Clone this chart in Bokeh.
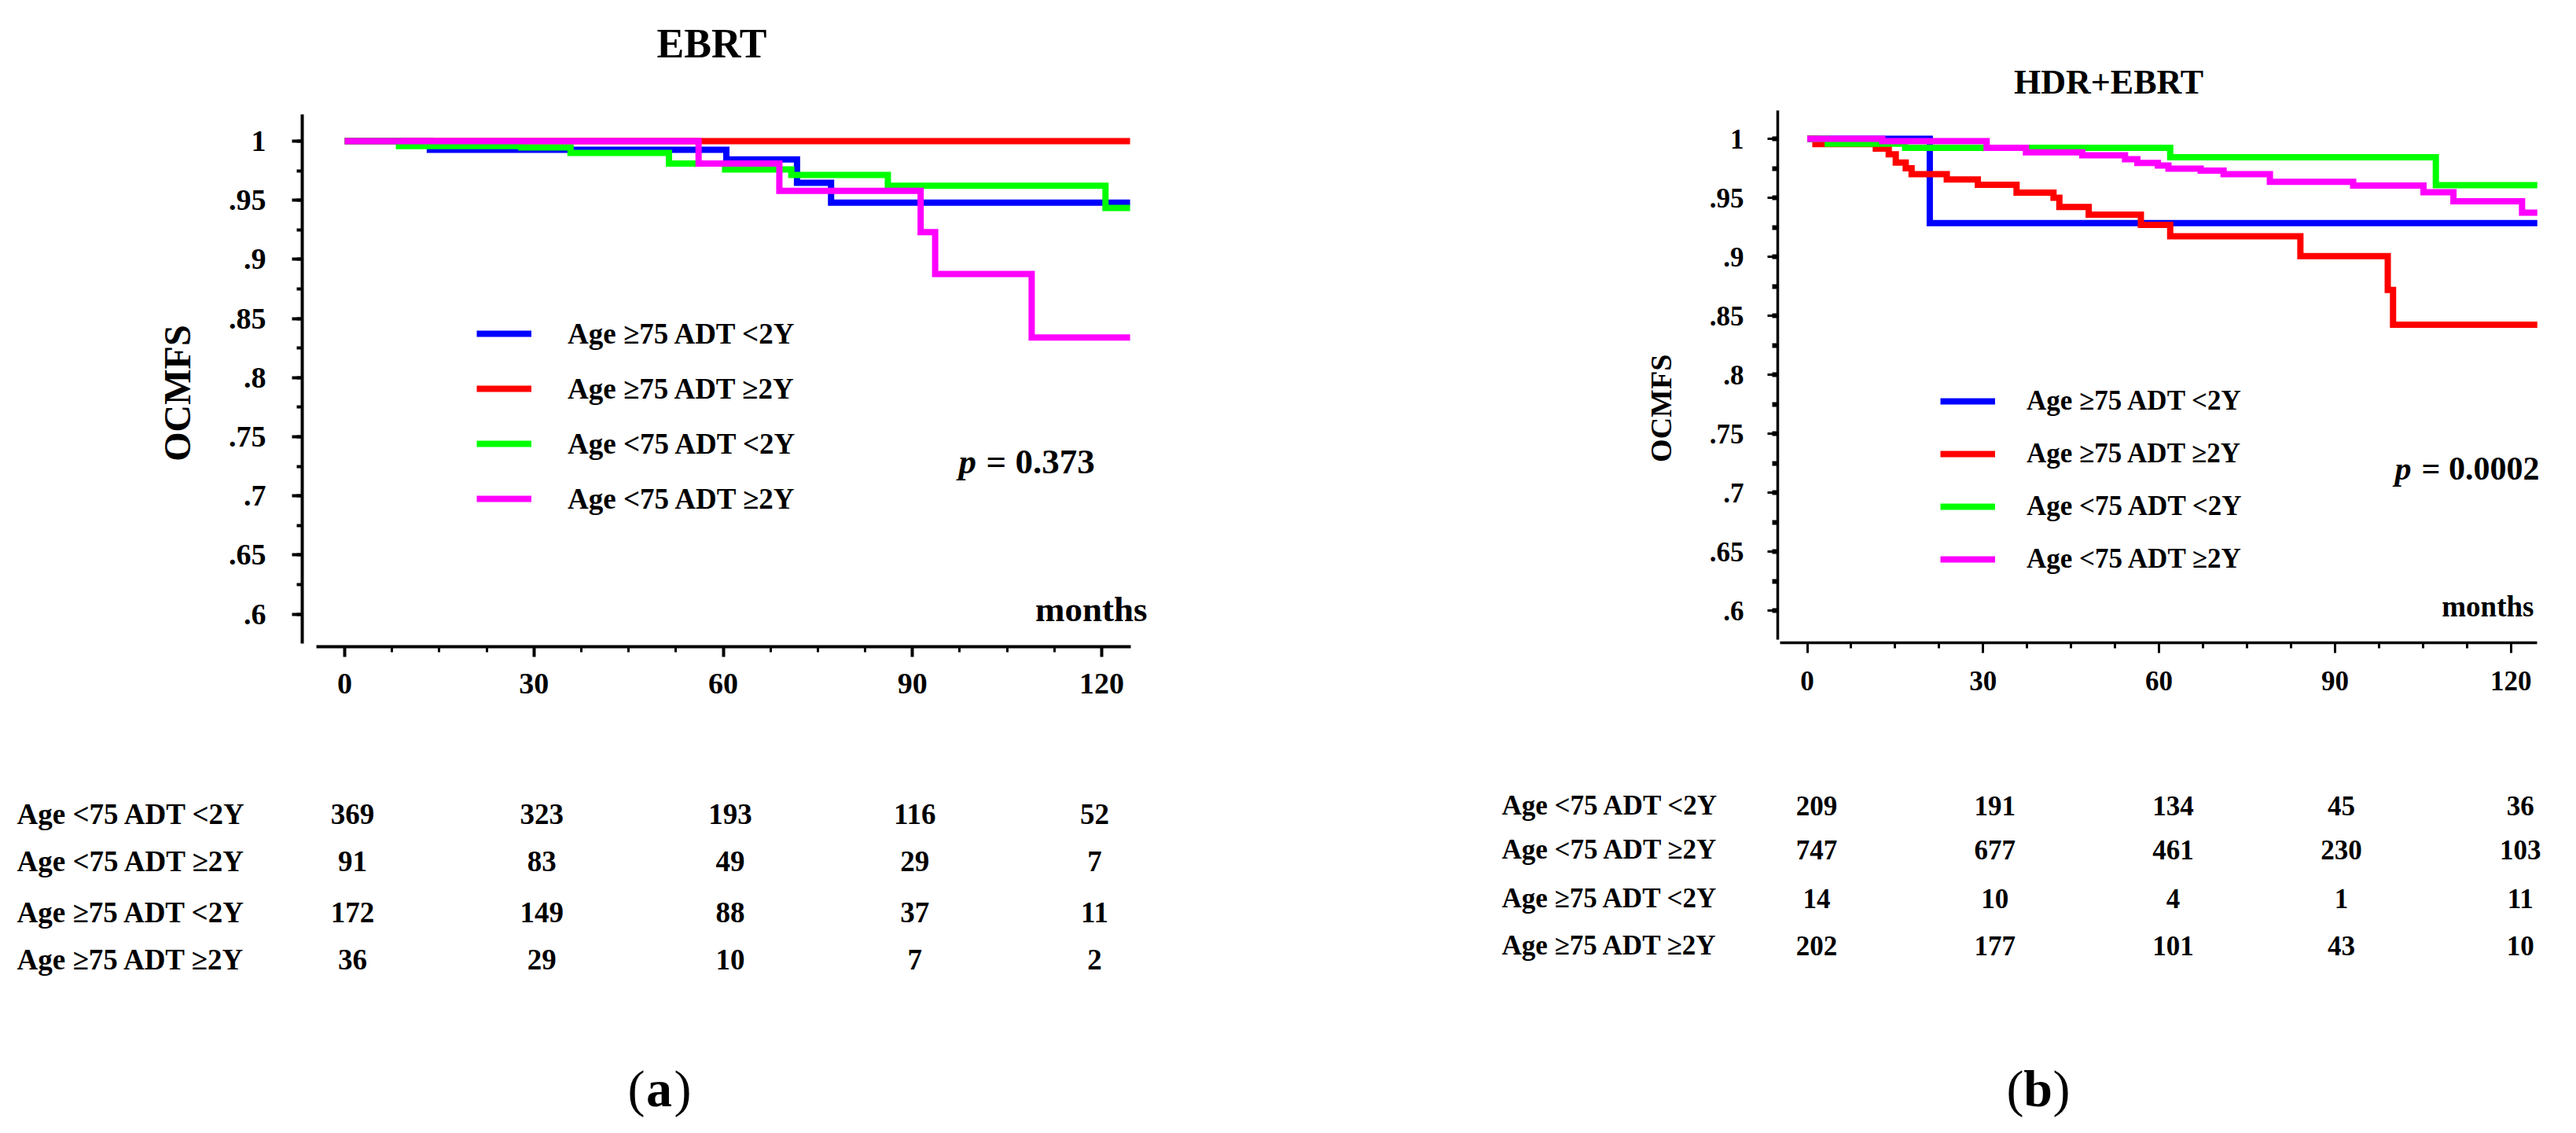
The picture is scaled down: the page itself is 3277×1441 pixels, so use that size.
import math
from bokeh.plotting import figure
from bokeh.models import (Label, Legend, LegendItem, SingleIntervalTicker,
                          CustomJSTickFormatter, Range1d)
from bokeh.layouts import row, column
from bokeh.embed import file_html
from bokeh.resources import INLINE

FONT = "Liberation Serif"

# ---------------- data ----------------
groups = ["Age ≥75 ADT <2Y", "Age ≥75 ADT ≥2Y", "Age <75 ADT <2Y", "Age <75 ADT ≥2Y"]
colors = ["#0000FF", "#FF0000", "#00FF00", "#FF00FF"]

# (a) EBRT  — Kaplan-Meier step curves (months, OCMFS)
ebrt_blue_t = [0, 13.5, 60.5, 71.7, 77.1, 124.5]
ebrt_blue_s = [1.0, 0.9927, 0.9845, 0.9648, 0.948, 0.948]
ebrt_red_t = [0, 124.5]
ebrt_red_s = [1.0, 1.0]
ebrt_green_t = [0, 8.6, 28.0, 35.8, 51.4, 60.3, 70.8, 86.1, 120.6, 124.5]
ebrt_green_s = [1.0, 0.9958, 0.9947, 0.990, 0.981, 0.976, 0.9714, 0.9623, 0.9435, 0.9435]
ebrt_mag_t = [0, 56.1, 68.9, 91.3, 93.6, 108.9, 124.5]
ebrt_mag_s = [1.0, 0.981, 0.958, 0.923, 0.8877, 0.834, 0.834]

# (b) HDR+EBRT
hdr_blue_t = [0, 20.9, 124.5]
hdr_blue_s = [1.0, 0.9285, 0.9285]
hdr_red_t = [0, 1.4, 11.7, 13.9, 15.1, 16.8, 17.8, 23.8, 29.1, 35.7, 42.0, 43.0, 48.0,
             56.9, 61.9, 84.1, 99.0, 99.9, 124.5]
hdr_red_s = [1.0, 0.9955, 0.9916, 0.9869, 0.9798, 0.975, 0.970, 0.9655, 0.961, 0.9544,
             0.950, 0.9422, 0.9358, 0.927, 0.9174, 0.9005, 0.872, 0.8424, 0.8424]
hdr_green_t = [0, 3.5, 16.7, 61.9, 107.2, 124.5]
hdr_green_s = [1.0, 0.9958, 0.9923, 0.9843, 0.9607, 0.9607]
hdr_mag_t = [0, 12.8, 30.6, 37.3, 46.9, 54.2, 56.3, 59.8, 61.6, 67.1, 71.0, 78.9, 93.1,
             105.1, 110.2, 121.9, 124.5]
hdr_mag_s = [1.0, 0.998, 0.9923, 0.9885, 0.986, 0.9827, 0.9795, 0.9774, 0.9747, 0.9731,
             0.970, 0.9636, 0.9604, 0.9547, 0.947, 0.9374, 0.9374]

# numbers at risk
risk_times = [0, 30, 60, 90, 120]
risk_rows = ["Age <75 ADT <2Y", "Age <75 ADT ≥2Y", "Age ≥75 ADT <2Y", "Age ≥75 ADT ≥2Y"]
ebrt_risk_r1 = [369, 323, 193, 116, 52]
ebrt_risk_r2 = [91, 83, 49, 29, 7]
ebrt_risk_r3 = [172, 149, 88, 37, 11]
ebrt_risk_r4 = [36, 29, 10, 7, 2]
hdr_risk_r1 = [209, 191, 134, 45, 36]
hdr_risk_r2 = [747, 677, 461, 230, 103]
hdr_risk_r3 = [14, 10, 4, 1, 11]
hdr_risk_r4 = [202, 177, 101, 43, 10]

titles = ["EBRT", "HDR+EBRT"]
pvalues = ["= 0.373", "= 0.0002"]
panel_tags = ["a", "b"]
y_title = "OCMFS"
x_title = "months"

H = 1425
TOP = 8
BOT = TOP + H

LAYOUT = [
    dict(cl=8, W=1630, Ht=120, Hm=797, Wl=262,
         X0=446.0, PXM=8.025, Y1=187.0, PYU=1504.0,
         fl=392, fr=1446, frx=1500, ft=152, fb=830, xb0=410, yb0=826,
         axis_w=4, tick_w=4, minor_w=4, tick_fs="38px", ystand=33, xstand=21,
         title=(913, 63, "52px"), ytitle=(233, 546, "48px"),
         months=(1467, 782, "45px"), p=(1227, 1262, 594, "45px"),
         legend=(222, 166, 44, 26, 46, "37px"),
         tbl_x=29, tbl_base=[1043, 1103, 1168, 1228], tbl_fs="37px",
         tbl_off=[10, 10, 9, 3, -9], tag=(846, 1392)),
    dict(cl=1638, W=1631, Ht=128, Hm=789, Wl=512,
         X0=2306.5, PXM=7.46, Y1=184.0, PYU=1501.2,
         fl=2269, fr=3235, frx=3262, ft=147, fb=825, xb0=2272, yb0=821,
         axis_w=3.5, tick_w=3, minor_w=6, tick_fs="35px", ystand=30, xstand=23,
         title=(2690, 112, "44px"), ytitle=(2120, 578, "38px"),
         months=(3231, 779, "37px"), p=(3054, 3088, 603, "42px"),
         legend=(207, 86, 40, 27, 40, "35px"),
         tbl_x=1918, tbl_base=[1032, 1088, 1150, 1210], tbl_fs="35px",
         tbl_off=[12, 15, 18, 8, 12], tag=(2600, 1392)),
]

curves = [
    [(ebrt_blue_t, ebrt_blue_s), (ebrt_red_t, ebrt_red_s), (ebrt_green_t, ebrt_green_s), (ebrt_mag_t, ebrt_mag_s)],
    [(hdr_blue_t, hdr_blue_s), (hdr_red_t, hdr_red_s), (hdr_green_t, hdr_green_s), (hdr_mag_t, hdr_mag_s)],
]
risks = [
    [ebrt_risk_r1, ebrt_risk_r2, ebrt_risk_r3, ebrt_risk_r4],
    [hdr_risk_r1, hdr_risk_r2, hdr_risk_r3, hdr_risk_r4],
]

yfmt = CustomJSTickFormatter(code="""
const s = String(Number(tick.toFixed(2)));
return s.startsWith('0') ? s.slice(1) : s;
""")


def text_fig(width, height, xr, yr):
    f = figure(width=width, height=height, output_backend="svg", toolbar_location=None,
               x_range=Range1d(*xr), y_range=Range1d(*yr), min_border=0,
               x_axis_location=None, y_axis_location=None)
    f.xgrid.visible = False
    f.ygrid.visible = False
    f.outline_line_color = None
    f.background_fill_color = "white"
    f.border_fill_color = "white"
    return f


def add_text(f, x, y, text, size, align="left", baseline="alphabetic", style="bold",
             angle=0.0, x_offset=0):
    f.add_layout(Label(x=x, y=y, x_units="data", y_units="data", text=text,
                       x_offset=x_offset, text_font=FONT, text_font_style=style,
                       text_font_size=size, text_align=align, text_baseline=baseline,
                       text_color="black", angle=angle))


def build(i):
    L = LAYOUT[i]
    dx = lambda px: (px - L["X0"]) / L["PXM"]
    dy = lambda py: 1.0 - (py - L["Y1"]) / L["PYU"]
    cl, W, Ht, Hm, Wl = L["cl"], L["W"], L["Ht"], L["Hm"], L["Wl"]
    Hb = H - Ht - Hm
    mtop = TOP + Ht
    mbot = mtop + Hm
    mleft = cl + Wl

    # ---- title strip ----
    tf = text_fig(W, Ht, (cl, cl + W), (mtop, TOP))
    tx, ty, tfs = L["title"]
    add_text(tf, tx, ty, titles[i], tfs, align="center")

    # ---- y title strip ----
    yf = text_fig(Wl, Hm, (cl, mleft), (mbot, mtop))
    yx, yy, yfs = L["ytitle"]
    add_text(yf, yx, yy, y_title, yfs, align="center", baseline="middle", angle=math.pi / 2)

    # ---- main plot ----
    p = figure(width=W - Wl, height=Hm, output_backend="svg", toolbar_location=None,
               x_range=(dx(L["fl"]), dx(L["frx"])), y_range=(dy(L["fb"]), dy(L["ft"])),
               min_border_left=L["fl"] - mleft, min_border_right=cl + W - L["frx"],
               min_border_top=L["ft"] - mtop, min_border_bottom=mbot - L["fb"])
    p.xgrid.visible = False
    p.ygrid.visible = False
    p.outline_line_color = None
    p.background_fill_color = "white"
    p.border_fill_color = "white"

    for ax in (p.xaxis[0], p.yaxis[0]):
        ax.axis_line_width = L["axis_w"]
        ax.axis_line_color = "black"
        ax.major_tick_line_width = L["tick_w"]
        ax.major_tick_in = 0
        ax.major_tick_out = 13
        ax.minor_tick_in = 0
        ax.minor_tick_out = 7
        ax.major_label_text_font = FONT
        ax.major_label_text_font_style = "bold"
        ax.major_label_text_font_size = L["tick_fs"]
        ax.major_label_text_color = "black"
    p.xaxis[0].ticker = SingleIntervalTicker(interval=30, num_minor_ticks=4)
    p.xaxis[0].bounds = (dx(L["xb0"]), dx(L["fr"]))
    p.xaxis[0].minor_tick_line_width = 3
    p.xaxis[0].major_label_standoff = L["xstand"]
    p.yaxis[0].ticker = SingleIntervalTicker(interval=0.05, num_minor_ticks=2)
    p.yaxis[0].bounds = (dy(L["yb0"]), dy(L["ft"] + 1))
    p.yaxis[0].minor_tick_line_width = L["minor_w"]
    p.yaxis[0].formatter = yfmt
    p.yaxis[0].major_label_standoff = L["ystand"]

    rends = []
    for (t, s), c in zip(curves[i], colors):
        r = p.step(x=t, y=s, mode="after", line_color=c, line_width=8, line_join="miter")
        rends.append(r)

    lx, ly, gh, sp, stand, lfs = L["legend"]
    leg = Legend(items=[LegendItem(label=g, renderers=[r]) for g, r in zip(groups, rends)],
                 location=(lx, ly), orientation="vertical", glyph_width=70, glyph_height=gh,
                 label_height=gh, spacing=sp, label_standoff=stand, padding=0, margin=0,
                 border_line_color=None, background_fill_alpha=0,
                 label_text_font=FONT, label_text_font_style="bold", label_text_font_size=lfs,
                 label_text_color="black")
    p.add_layout(leg)

    mx, my, mfs = L["months"]
    add_text(p, dx(mx), dy(my), x_title, mfs, align="right")
    px_, ex_, pyb, pfs = L["p"]
    add_text(p, dx(px_), dy(pyb), "p", pfs, style="bold italic")
    add_text(p, dx(ex_), dy(pyb), pvalues[i], pfs)

    # ---- numbers-at-risk table ----
    bf = text_fig(W, Hb, (dx(cl), dx(cl + W)), (BOT, mbot))
    for r_i, (name, vals) in enumerate(zip(risk_rows, risks[i])):
        base = L["tbl_base"][r_i]
        add_text(bf, dx(L["tbl_x"]), base, name, L["tbl_fs"])
        for c_i, (t, v) in enumerate(zip(risk_times, vals)):
            add_text(bf, t, base, str(v), L["tbl_fs"], align="center",
                     x_offset=L["tbl_off"][c_i])

    gx, gy = L["tag"]
    add_text(bf, dx(gx - 18), gy, "(", "66px", align="right", style="normal")
    add_text(bf, dx(gx), gy, panel_tags[i], "66px", align="center", style="bold")
    add_text(bf, dx(gx + 19), gy, ")", "66px", align="left", style="normal")

    return column(tf, row(yf, p), bf)


layout = row(build(0), build(1))
open("out.html", "w").write(file_html(layout, INLINE))
